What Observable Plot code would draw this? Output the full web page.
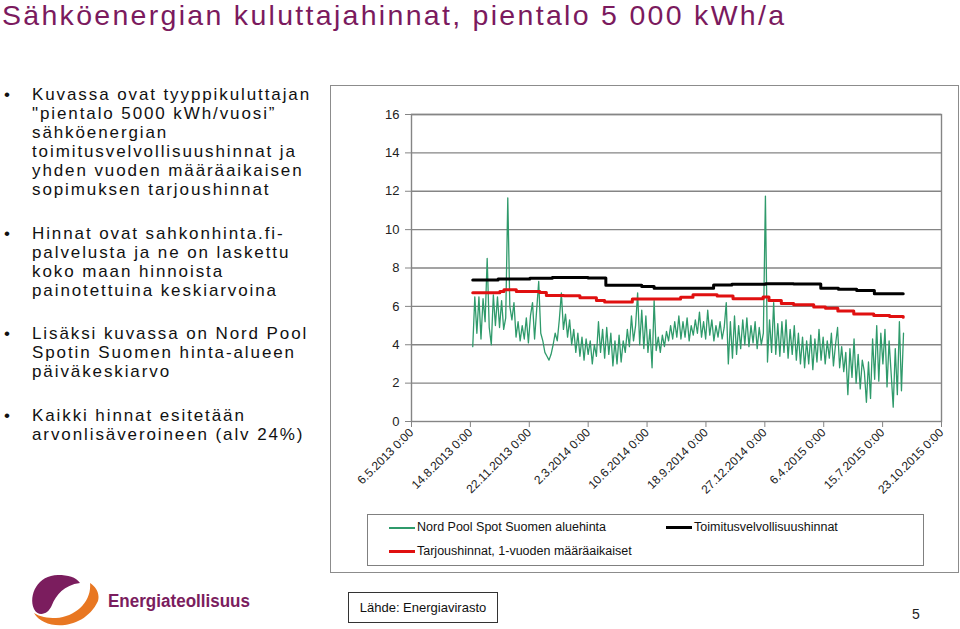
<!DOCTYPE html>
<html><head><meta charset="utf-8">
<script src="https://cdn.jsdelivr.net/npm/d3@7"></script>
<script src="https://cdn.jsdelivr.net/npm/@observablehq/plot@0.6"></script>
<style>
body{margin:0;width:960px;height:629px;position:relative;background:#fff;font-family:"Liberation Sans",Arial,sans-serif;overflow:hidden}
#title{position:absolute;left:2px;top:-1px;font-size:28.5px;color:#7b1a5e;letter-spacing:2.3px;white-space:nowrap}
#bullets{position:absolute;left:0;top:85px;width:328px;font-size:17px;line-height:19px;color:#111;letter-spacing:1.9px}
.b{position:relative;padding-left:32px;margin-bottom:24.5px;white-space:nowrap}
.b::before{content:"•";position:absolute;left:4px;top:0;letter-spacing:0}
#box{position:absolute;left:330px;top:85px;width:627px;height:486px;border:1px solid #8c8c8c}
#chart{position:absolute;left:330px;top:85px}
#legend{position:absolute;left:367px;top:514px;width:555px;height:50px;border:1px solid #808080;font-size:12.5px;color:#111}
.li{position:absolute;white-space:nowrap}
.sw{position:absolute}
#src{position:absolute;left:348px;top:592px;width:148px;height:29px;border:1px solid #333;font-size:13px;line-height:29px;text-align:center;color:#111}
#pg{position:absolute;left:912px;top:606px;font-size:14px;color:#222}
#logo{position:absolute;left:0;top:565px}
</style></head>
<body>
<div id="title">Sähköenergian kuluttajahinnat, pientalo 5 000 kWh/a</div>
<div id="bullets">
<div class="b">Kuvassa ovat tyyppikuluttajan<br>"pientalo 5000 kWh/vuosi”<br>sähköenergian<br>toimitusvelvollisuushinnat ja<br>yhden vuoden määräaikaisen<br>sopimuksen tarjoushinnat</div>
<div class="b">Hinnat ovat sahkonhinta.fi-<br>palvelusta ja ne on laskettu<br>koko maan hinnoista<br>painotettuina keskiarvoina</div>
<div class="b">Lisäksi kuvassa on Nord Pool<br>Spotin Suomen hinta-alueen<br>päiväkeskiarvo</div>
<div class="b">Kaikki hinnat esitetään<br>arvonlisäveroineen (alv 24%)</div>
</div>
<div id="box"></div>
<div id="chart"></div>
<div id="legend">
  <div class="sw" style="left:21px;top:12px;width:26px;height:1.5px;background:#2f9a6b"></div>
  <div class="li" style="left:49px;top:5px">Nord Pool Spot Suomen aluehinta</div>
  <div class="sw" style="left:298px;top:11px;width:26px;height:3px;background:#000"></div>
  <div class="li" style="left:326px;top:5px">Toimitusvelvollisuushinnat</div>
  <div class="sw" style="left:21px;top:35px;width:26px;height:3px;background:#e01010"></div>
  <div class="li" style="left:49px;top:29px">Tarjoushinnat, 1-vuoden määräaikaiset</div>
</div>
<svg id="logo" width="280" height="64">
  <path d="M58 10 C38 10 28 30 34 44 C38 52 48 50 52 40 C56 30 64 20 80 18 C76 12 68 10 58 10 Z" fill="#7b1d5e"/>
  <path d="M34 48 C44 66 84 66 98 36 C100 28 96 22 90 18 C92 36 76 52 56 53 C47 53 40 52 34 48 Z" fill="#e87722"/>
  <text x="108" y="42" font-family="Liberation Sans, Arial, sans-serif" font-weight="bold" font-size="18" textLength="142" lengthAdjust="spacingAndGlyphs" fill="#7b1d5e">Energiateollisuus</text>
</svg>
<div id="src">Lähde: Energiavirasto</div>
<div id="pg">5</div>
<script>
// X-axis tick labels (dates every 100 days, as in the source chart)
const xTickLabels = ["6.5.2013 0:00","14.8.2013 0:00","22.11.2013 0:00","2.3.2014 0:00","10.6.2014 0:00","18.9.2014 0:00","27.12.2014 0:00","6.4.2015 0:00","15.7.2015 0:00","23.10.2015 0:00"];
const yTicks = [0,2,4,6,8,10,12,14,16];

// Nord Pool Spot Suomen aluehinta (c/kWh incl. VAT), read every 3.5 days from 18.8.2013
const spotStart = "2013-08-18";
const spotStepHours = 84;
const spotValues = [
 3.9,6.5,4.6,6.5,4.3,6.4,5.2,8.5,4.9,4.0,
 6.6,5.0,6.5,4.9,6.3,4.8,5.4,11.65,6.0,5.3,
 6.2,4.4,5.2,4.2,5.0,4.3,5.4,4.1,5.5,6.2,
 4.3,5.8,7.3,4.6,4.2,3.6,3.4,3.2,3.5,4.0,
 4.6,4.2,5.3,6.7,4.8,5.6,4.4,5.3,4.0,4.8,
 3.6,4.6,3.4,4.4,3.2,4.3,3.5,4.2,3.0,4.0,
 3.4,5.2,3.6,4.8,3.3,4.9,3.5,4.6,2.9,4.2,
 3.0,4.5,3.1,4.2,3.6,4.8,3.9,5.5,4.2,5.0,
 6.7,4.0,5.8,3.8,5.5,3.6,4.8,2.8,6.3,3.7,
 4.4,3.6,4.5,3.9,4.7,4.2,5.0,4.3,5.2,4.4,
 5.5,4.3,5.2,4.4,5.4,4.2,5.0,4.5,5.3,4.6,
 5.7,4.4,5.2,4.3,5.8,4.5,5.3,4.2,5.0,4.4,
 5.2,4.3,4.9,6.2,3.0,5.2,3.3,5.5,3.5,5.0,
 3.8,5.3,4.0,5.4,3.9,5.0,4.1,5.2,3.8,4.9,
 4.0,4.6,11.75,3.1,5.3,3.6,6.2,3.5,5.1,3.4,
 5.2,3.6,5.3,3.3,4.8,3.5,5.0,3.2,4.6,3.0,
 4.4,2.8,4.2,3.0,4.5,2.7,4.3,3.1,4.8,3.2,
 4.4,3.0,4.2,3.3,4.6,2.9,4.0,4.9,2.8,3.9,
 2.6,3.6,1.4,3.8,2.3,4.3,2.0,3.5,1.7,3.2,
 2.6,1.0,3.1,1.2,4.3,2.2,5.0,2.1,4.6,3.0,
 4.8,1.8,4.2,2.5,0.75,3.8,1.4,5.2,1.6,4.6
];

// Toimitusvelvollisuushinnat
const toimDates = ["2013-08-18","2013-09-30","2013-11-23","2013-12-31","2014-03-02","2014-04-01","2014-06-01","2014-06-22","2014-10-01","2014-11-01","2014-12-28","2015-02-14","2015-04-01","2015-05-01","2015-06-01","2015-07-01","2015-08-19"];
const toimValues = [7.37,7.43,7.46,7.51,7.48,7.10,7.03,6.94,7.11,7.15,7.18,7.16,6.94,6.89,6.83,6.66,6.66];

// Tarjoushinnat, 1-vuoden määräaikaiset
const tarjDates = ["2013-08-18","2013-10-03","2013-10-10","2013-10-31","2013-12-10","2013-12-21","2014-01-20","2014-02-16","2014-03-16","2014-03-30","2014-05-16","2014-08-06","2014-08-27","2014-10-07","2014-11-03","2014-12-24","2015-01-03","2015-01-24","2015-02-14","2015-03-20","2015-04-09","2015-04-30","2015-05-27","2015-06-30","2015-07-27","2015-08-19"];
const tarjValues = [6.71,6.78,6.87,6.78,6.72,6.57,6.55,6.45,6.31,6.23,6.38,6.47,6.61,6.54,6.40,6.49,6.30,6.15,6.09,5.97,5.90,5.76,5.60,5.53,5.47,5.43];

const parseLabel = s => { const [d,m,y] = s.split(" ")[0].split(".").map(Number); return new Date(Date.UTC(y, m-1, d)); };
const tickDates = xTickLabels.map(parseLabel);
const labelOf = new Map(tickDates.map((d,i)=>[+d, xTickLabels[i]]));
const iso = s => new Date(s + "T00:00:00Z");

const t0 = iso(spotStart);
const spot = spotValues.map((v,i)=>({date: d3.utcHour.offset(t0, i*spotStepHours), value: v}));
const toim = toimDates.map((d,i)=>({date: iso(d), value: toimValues[i]}));
const tarj = tarjDates.map((d,i)=>({date: iso(d), value: tarjValues[i]}));

const chart = Plot.plot({
  width: 628, height: 420,
  marginLeft: 81, marginRight: 17, marginTop: 29, marginBottom: 84,
  style: {fontFamily: "Liberation Sans, Arial, sans-serif", color: "#222", background: "transparent", overflow: "visible"},
  x: {type: "utc", domain: [tickDates[0], tickDates[tickDates.length-1]]},
  y: {domain: [0,16]},
  marks: [
    Plot.ruleY(yTicks.slice(1), {stroke: "#858585", strokeWidth: 1.4, strokeOpacity: 1}),
    Plot.frame({stroke: "#858585", strokeWidth: 1.4}),
    Plot.axisY({ticks: yTicks, tickSize: 6, tickPadding: 6, fontSize: 13, label: null, stroke: "#858585"}),
    Plot.axisX({ticks: tickDates, tickFormat: d => labelOf.get(+d), tickRotate: -45, tickSize: 6, tickPadding: 3, fontSize: 12, label: null, stroke: "#858585"}),
    Plot.line(spot, {x: "date", y: "value", stroke: "#2f9a6b", strokeWidth: 1.3}),
    Plot.line(toim, {x: "date", y: "value", stroke: "#000", strokeWidth: 3, curve: "step-after"}),
    Plot.line(tarj, {x: "date", y: "value", stroke: "#e01010", strokeWidth: 3, curve: "step-after"})
  ]
});
document.getElementById("chart").appendChild(chart);
</script>
</body></html>
